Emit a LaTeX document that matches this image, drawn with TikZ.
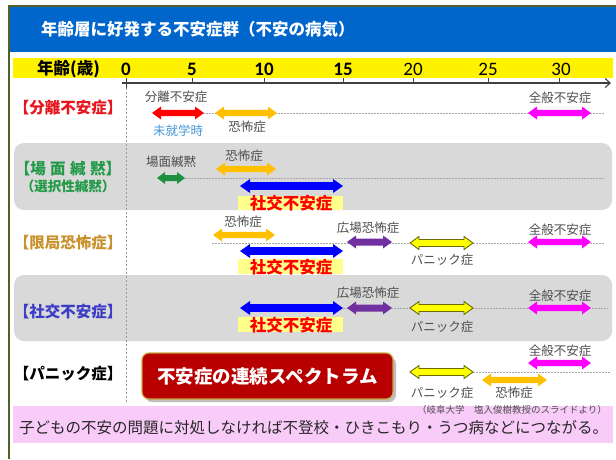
\documentclass[tikz,border=0pt]{standalone}
\usepackage{fontspec}
\setmainfont{Noto Sans CJK JP}
\newfontfamily\numfont{Carlito}
\usetikzlibrary{arrows.meta}
\definecolor{hdrblue}{HTML}{0066CC}
\definecolor{bandgray}{HTML}{D9D9D9}
\definecolor{lblgray}{HTML}{4D4D4D}
\definecolor{ored}{HTML}{FF0000}
\definecolor{oorange}{HTML}{FFC000}
\definecolor{ogreen}{HTML}{1E9140}
\definecolor{oblue}{HTML}{0000FF}
\definecolor{opurple}{HTML}{7030A0}
\definecolor{omag}{HTML}{FF00FF}
\definecolor{oyellow}{HTML}{FFFF00}
\definecolor{oolive}{HTML}{6B6B00}
\definecolor{pinkband}{HTML}{F9CBF9}
\definecolor{boxred}{HTML}{B80000}
\definecolor{boxgold}{HTML}{C9A640}
\definecolor{frameg}{HTML}{4F6228}
\definecolor{hilite}{HTML}{FFFF8C}
\definecolor{axisgray}{HTML}{404040}
\definecolor{lblred}{HTML}{E8141E}
\definecolor{lblgreen}{HTML}{229A48}
\definecolor{lblorange}{HTML}{C8922E}
\definecolor{lblblue}{HTML}{3C3CC8}
\definecolor{skyblue}{HTML}{4A9AD8}
\newcommand\dblarr[7]{%
  \path[#1] (#2,#4) -- ({#2+#7},{#4-#6}) -- ({#2+#7},{#4-#5}) -- ({#3-#7},{#4-#5})
   -- ({#3-#7},{#4-#6}) -- (#3,#4) -- ({#3-#7},{#4+#6}) -- ({#3-#7},{#4+#5})
   -- ({#2+#7},{#4+#5}) -- ({#2+#7},{#4+#6}) -- cycle;}
\begin{document}
\begin{tikzpicture}[x=1pt,y=-1pt,
  lbl/.style={font=\fontsize{12.5}{13}\selectfont, text=lblgray, inner sep=0pt},
  rowlbl/.style={font=\bfseries\fontsize{15.5}{16}\selectfont, inner sep=0pt},
  social/.style={font=\bfseries\fontsize{16.5}{17}\selectfont, text=ored, inner sep=0pt},
  dots/.style={draw=black!35, line width=0.8pt, dash pattern=on 1.5pt off 1.5pt},
  band/.style={fill=bandgray, rounded corners=10pt},
  num/.style={font=\numfont\fontsize{19}{20}\selectfont, inner sep=0pt},
  bnum/.style={num, font=\numfont\bfseries\fontsize{19}{20}\selectfont},
  hl/.style={fill=hilite},
  redarr/.style={fill=ored}, orarr/.style={fill=oorange}, grarr/.style={fill=ogreen},
  blarr/.style={fill=oblue}, puarr/.style={fill=opurple}, maarr/.style={fill=omag},
  yearr/.style={fill=oyellow, draw=oolive, line width=0.9pt},
]
\useasboundingbox (0,0) rectangle (616,459);
\fill[white] (0,0) rectangle (616,459);
% frame and header
\draw[frameg, line width=1.5pt] (9,459) -- (9,6) -- (616,6);
\fill[hdrblue] (10,7) rectangle (616,52);
\node[anchor=west, text=white, font=\bfseries\fontsize{16.5}{18}\selectfont, inner sep=0pt] (title) at (41,29) {年齢層に好発する不安症群（不安の病気）};
% age band
\fill[yellow] (13,58) rectangle (613,78);
\node[font=\bfseries\fontsize{16.5}{17}\selectfont, inner sep=0pt] (agelbl) at (68.5,69) {年齢(歳)};
\node[bnum] (n0) at (126,69) {0};
\node[bnum] (n5) at (192,69) {5};
\node[bnum] (n10) at (264,69) {10};
\node[bnum] (n15) at (343,69) {15};
\node[num] (n20) at (413,69) {20};
\node[num] (n25) at (488,69) {25};
\node[num] (n30) at (561,69) {30};
\draw[axisgray, line width=1.1pt, -{Straight Barb[length=5pt,width=9pt]}] (122,83) -- (611,83);
\foreach \tx in {192,264,343,413,488,559} \draw[axisgray, line width=1pt] (\tx,78) -- (\tx,83);
\draw[axisgray, line width=1pt] (126,78) -- (126,88);
% gray bands
\fill[band] (14,143) rectangle (612,210);
\fill[band] (14,275) rectangle (612,341);
% pink band
\fill[pinkband] (13,406) rectangle (613,443);
% vertical dashed line
\draw[black!40, line width=0.6pt, dash pattern=on 2pt off 2pt] (126,88) -- (126,404);
% dotted guide lines
\draw[dots] (203,113) -- (605,113);
\draw[dots] (185,178) -- (605,178);
\draw[dots] (212,243) -- (605,243);
\draw[dots] (343,308) -- (608,308);
\draw[dots] (473,372) -- (610,372);
% row labels
\node[rowlbl, text=lblred] (r1) at (68,108) {【分離不安症】};
\node[rowlbl, text=lblgreen] (r2) at (68,169) {【場\hspace{4.5pt}面\hspace{4.5pt}緘\hspace{4.5pt}黙】};
\node[font=\bfseries\fontsize{13.5}{14}\selectfont, inner sep=0pt, text=lblgreen] (r2b) at (68,187) {（選択性緘黙）};
\node[rowlbl, text=lblorange] (r3) at (68,243) {【限局恐怖症】};
\node[rowlbl, text=lblblue] (r4) at (68,312) {【社交不安症】};
\node[rowlbl, text=black] (r5) at (68,374) {【パニック症】};
% row 1
\dblarr{redarr}{152}{204}{113}{3.2}{6.5}{9}
\dblarr{orarr}{215}{277}{113}{3.2}{6.5}{9}
\dblarr{maarr}{528}{591}{113}{3.2}{6.5}{9}
\node[lbl] (l1a) at (176,97) {分離不安症};
\node[lbl, text=skyblue] (l1b) at (178,131) {未就学時};
\node[lbl] (l1c) at (247,127) {恐怖症};
\node[lbl] (l1d) at (560,98) {全般不安症};
% row 2
\dblarr{grarr}{157}{185}{178}{3}{6}{8}
\dblarr{orarr}{216}{276}{169}{3.2}{6.5}{9}
\fill[hl] (238,196) rectangle (343,210);
\dblarr{blarr}{240}{343}{186}{3.8}{7}{10}
\node[lbl] (l2a) at (171,162) {場面緘黙};
\node[lbl] (l2b) at (244,156) {恐怖症};
\node[social] (l2c) at (291,203) {社交不安症};
% row 3
\dblarr{orarr}{213}{275}{235}{3.2}{6.5}{9}
\fill[hl] (238,259) rectangle (343,274);
\dblarr{blarr}{240}{343}{251}{3.8}{7}{10}
\dblarr{puarr}{347}{392}{242}{3.5}{6.5}{9}
\dblarr{yearr}{410}{473}{243}{3.5}{6.5}{9}
\dblarr{maarr}{528}{591}{242}{3.2}{6.5}{9}
\node[lbl] (l3a) at (243,222) {恐怖症};
\node[social] (l3b) at (291,267) {社交不安症};
\node[lbl] (l3c) at (368,228) {広場恐怖症};
\node[lbl] (l3d) at (442,260) {パニック症};
\node[lbl] (l3e) at (560,230) {全般不安症};
% row 4
\fill[hl] (238,317) rectangle (343,332);
\dblarr{blarr}{240}{343}{308}{3.8}{7}{10}
\dblarr{puarr}{347}{392}{308}{3.5}{6.5}{9}
\dblarr{yearr}{410}{473}{308}{3.5}{6.5}{9}
\dblarr{maarr}{528}{591}{308}{3.2}{6.5}{9}
\node[social] (l4a) at (291,325) {社交不安症};
\node[lbl] (l4b) at (368,293) {広場恐怖症};
\node[lbl] (l4c) at (442,327) {パニック症};
\node[lbl] (l4d) at (560,296) {全般不安症};
% row 5
\fill[black!25] (145,357) [rounded corners=7pt] rectangle (396,402);
\node[draw=boxgold, fill=boxred, line width=1.2pt, rounded corners=7pt, minimum width=251pt, minimum height=46pt, inner sep=0pt,
      text=white, font=\bfseries\fontsize{18.5}{20}\selectfont] (spec) at (267.5,376) {不安症の連続スペクトラム};
\dblarr{yearr}{410}{473}{372}{3.5}{6.5}{9}
\dblarr{maarr}{528}{591}{363}{3.2}{6.5}{9}
\dblarr{orarr}{482}{547}{380}{3.2}{6.5}{9}
\node[lbl] (l5a) at (560,351) {全般不安症};
\node[lbl] (l5b) at (442,393) {パニック症};
\node[lbl] (l5c) at (514,393) {恐怖症};
\node[font=\fontsize{9.5}{10}\selectfont, text=lblgray, inner sep=0pt] (cite) at (512,410) {（岐阜大学　塩入俊樹教授のスライドより）};
% bottom message
\node[anchor=west, font=\fontsize{15.5}{16}\selectfont, text=black!85, inner sep=0pt] (msg) at (19,428) {子どもの不安の問題に対処しなければ不登校・ひきこもり・うつ病などにつながる。};
\end{tikzpicture}
\end{document}
